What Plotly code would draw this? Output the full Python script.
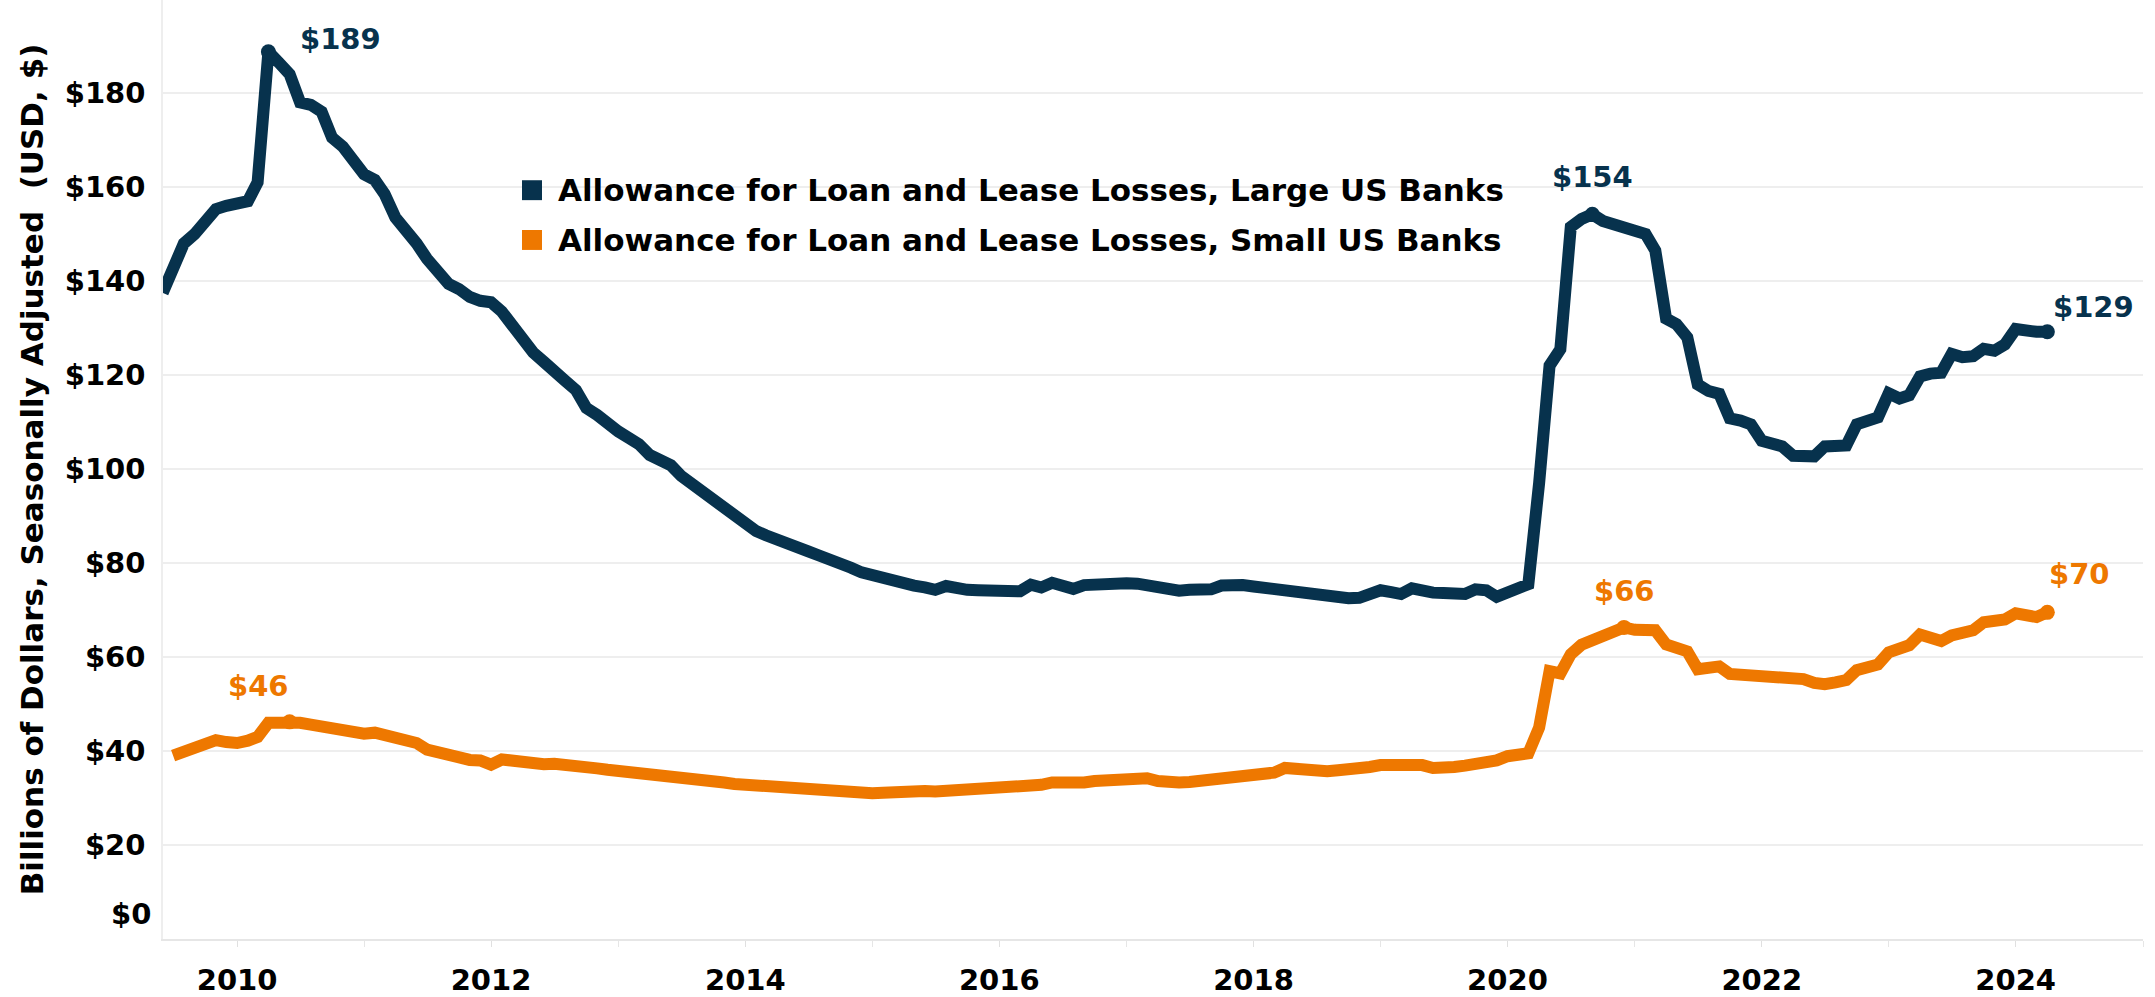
import pandas as pd
import plotly.graph_objects as go

# ---------------- data (monthly, billions USD) ----------------
large_start = "2009-06-01"
large_values = [
    137.5, 143.5, 148.0, 150.0, 152.5, 155.3, 156.0,                                  # 2009 Jun-Dec
    156.8, 157.0, 161.0, 188.8, 186.5, 184.0, 178.0, 177.5, 176.0, 170.5, 168.6, 165.5,  # 2010
    162.7, 161.5, 158.5, 153.5, 151.2, 148.0, 144.7, 142.3, 139.4, 138.3, 136.6, 135.8,  # 2011
    135.5, 133.5, 130.5, 127.5, 124.8, 122.8, 120.5, 118.8, 116.8, 113.0, 111.5, 109.5,  # 2012
    108.0, 106.6, 105.3, 103.0, 101.8, 100.8, 98.5, 96.8, 94.5, 92.8, 91.5, 89.8,        # 2013
    87.9, 86.8, 85.9, 85.2, 84.3, 83.5, 82.5, 81.6, 80.5, 79.8, 79.0, 78.0,              # 2014
    77.3, 76.8, 76.3, 75.6, 75.2, 74.8, 74.3, 75.1, 74.5, 74.3, 74.2, 74.2,              # 2015
    74.1, 73.8, 74.0, 75.4, 74.8, 75.8, 75.2, 74.5, 75.3, 75.5, 75.6, 75.8,              # 2016
    75.7, 75.6, 75.2, 74.8, 74.3, 74.1, 74.3, 74.2, 74.4, 75.2, 75.4, 75.3,              # 2017
    75.0, 74.7, 74.4, 74.0, 73.8, 73.6, 73.1, 72.7, 72.6, 72.5, 72.6, 73.2,              # 2018
    74.2, 73.8, 73.4, 74.6, 74.0, 73.7, 73.6, 73.3, 73.4, 74.4, 74.2, 72.8,              # 2019
    73.8, 74.5, 75.5, 97.0, 122.0, 125.5, 151.5, 153.2, 154.2, 152.8, 152.0, 151.2,      # 2020
    150.8, 150.0, 146.5, 132.0, 130.8, 128.0, 118.0, 116.6, 116.0, 110.8, 110.3, 109.5,  # 2021
    106.0, 105.5, 104.8, 102.8, 102.5, 102.7, 104.8, 104.6, 105.0, 109.5, 110.0, 111.0,  # 2022
    116.1, 115.0, 115.7, 119.7, 120.3, 120.5, 124.5, 123.8, 124.0, 125.6, 125.2, 126.5,  # 2023
    129.8, 129.3, 129.2, 129.2,                                                          # 2024 Jan-Apr
]

small_start = "2009-07-01"
small_values = [
    39.0, 39.8, 40.3, 41.2, 42.3, 41.9,                                      # 2009 Jul-Dec
    41.7, 42.2, 43.0, 46.0, 46.1, 46.2, 46.0, 45.6, 45.2, 45.0, 44.9, 44.3,  # 2010
    43.7, 43.9, 43.3, 42.5, 42.1, 41.7, 40.3, 39.6, 39.3, 38.5, 38.1, 38.0,  # 2011
    37.1, 38.2, 37.9, 37.6, 37.4, 37.2, 37.3, 36.9, 36.8, 36.6, 36.3, 36.0,  # 2012
    35.8, 35.6, 35.5, 35.2, 34.9, 34.7, 34.5, 34.3, 34.0, 33.6, 33.3, 33.0,  # 2013
    32.8, 32.7, 32.5, 32.3, 32.2, 32.0, 31.8, 31.6, 31.5, 31.3, 31.2, 31.1,  # 2014
    31.0, 31.1, 31.3, 31.4, 31.5, 31.5, 31.4, 31.5, 31.5, 31.6, 31.7, 31.8,  # 2015
    31.9, 32.1, 32.3, 32.7, 32.8, 33.3, 33.2, 33.0, 33.3, 33.6, 33.8, 34.0,  # 2016
    34.1, 34.1, 34.2, 33.6, 33.3, 33.3, 33.4, 33.6, 33.8, 34.2, 34.4, 34.7,  # 2017
    34.9, 35.2, 35.4, 36.4, 36.2, 35.8, 35.6, 35.7, 35.9, 36.0, 36.2, 36.6,  # 2018
    37.0, 37.1, 37.2, 37.3, 37.0, 36.4, 36.2, 36.6, 36.9, 37.1, 37.4, 38.0,  # 2019
    38.9, 39.1, 39.5, 45.0, 57.0, 56.5, 60.6, 62.6, 63.5, 64.6, 65.3, 66.3,  # 2020
    65.8, 65.7, 65.7, 62.7, 62.0, 61.2, 57.4, 57.6, 58.0, 56.4, 56.3, 56.4,  # 2021
    55.8, 55.7, 55.8, 55.6, 55.3, 54.5, 54.2, 54.6, 55.1, 57.2, 57.8, 58.4,  # 2022
    61.0, 61.8, 62.5, 64.8, 64.2, 63.4, 64.6, 65.2, 65.7, 67.4, 67.7, 68.0,  # 2023
    69.3, 69.0, 68.5, 69.5,                                                  # 2024 Jan-Apr
]

series_names = [
    "Allowance for Loan and Lease Losses, Large US Banks",
    "Allowance for Loan and Lease Losses, Small US Banks",
]
y_tick_values = [20, 40, 60, 80, 100, 120, 140, 160, 180]
y_tick_labels = ["$20", "$40", "$60", "$80", "$100", "$120", "$140", "$160", "$180"]
x_tick_values = ["2010-01-01", "2012-01-01", "2014-01-01", "2016-01-01",
                 "2018-01-01", "2020-01-01", "2022-01-01", "2024-01-01"]
x_tick_labels = ["2010", "2012", "2014", "2016", "2018", "2020", "2022", "2024"]
y_axis_title = "Billions of Dollars, Seasonally Adjusted  (USD, $)"

# ---------------- styling ----------------
NAVY = "#07324d"
ORANGE = "#ee7800"
FONT = "DejaVu Sans"
LINE_W = 12

large_dates = pd.date_range(large_start, periods=len(large_values), freq="MS")
small_dates = pd.date_range(small_start, periods=len(small_values), freq="MS")

fig = go.Figure()

fig.add_trace(go.Scatter(x=large_dates, y=large_values, mode="lines",
                         line=dict(color=NAVY, width=LINE_W), showlegend=False,
                         hoverinfo="skip"))
fig.add_trace(go.Scatter(x=small_dates, y=small_values, mode="lines",
                         line=dict(color=ORANGE, width=LINE_W), showlegend=False,
                         hoverinfo="skip"))

# highlighted points: early peak, 2020 peak and last value
def idx_max(vals, lo, hi):
    seg = vals[lo:hi]
    return lo + seg.index(max(seg))

n_l = len(large_values)
n_s = len(small_values)
large_pts = [idx_max(large_values, 0, 60), idx_max(large_values, 120, 150), n_l - 1]
small_pts = [idx_max(small_values, 0, 60), idx_max(small_values, 120, 150), n_s - 1]

fig.add_trace(go.Scatter(x=[large_dates[i] for i in large_pts],
                         y=[large_values[i] for i in large_pts], mode="markers",
                         marker=dict(color=NAVY, size=15), showlegend=False,
                         hoverinfo="skip"))
fig.add_trace(go.Scatter(x=[small_dates[i] for i in small_pts],
                         y=[small_values[i] for i in small_pts], mode="markers",
                         marker=dict(color=ORANGE, size=15), showlegend=False,
                         hoverinfo="skip"))

# value labels
label_shifts_large = [(72, 13), (0, 37), (46, 25)]
label_shifts_small = [(-31, 36), (0, 36), (32, 38)]
for i, (dx, dy) in zip(large_pts, label_shifts_large):
    fig.add_annotation(x=large_dates[i], y=large_values[i],
                       text=f"${round(large_values[i]):d}", showarrow=False,
                       xshift=dx, yshift=dy,
                       font=dict(family=FONT, size=29, color=NAVY, weight="bold"))
for i, (dx, dy) in zip(small_pts, label_shifts_small):
    fig.add_annotation(x=small_dates[i], y=small_values[i],
                       text=f"${round(small_values[i]):d}", showarrow=False,
                       xshift=dx, yshift=dy,
                       font=dict(family=FONT, size=29, color=ORANGE, weight="bold"))

# "$0" tick label (drawn slightly above the axis line as in the source)
fig.add_annotation(x=0, xref="paper", y=0, yref="y", text="$0",
                   showarrow=False, xanchor="right", xshift=-10, yshift=25,
                   font=dict(family=FONT, size=29, color="#000000", weight="bold"))

# legend drawn with square swatches + text (positions in pixels of the plot area)
PLOT_L, PLOT_R, PLOT_T, PLOT_B = 163, 2143, 0, 943
def px_to_paper_x(px):
    return (px - PLOT_L) / (PLOT_R - PLOT_L)
def px_to_paper_y(py):
    return (PLOT_B - py) / (PLOT_B - PLOT_T)

legend_rows = [(series_names[0], NAVY, 191), (series_names[1], ORANGE, 241)]
for name, col, yc in legend_rows:
    fig.add_shape(type="rect", xref="paper", yref="paper",
                  x0=px_to_paper_x(522), x1=px_to_paper_x(542),
                  y0=px_to_paper_y(yc + 10), y1=px_to_paper_y(yc - 10),
                  fillcolor=col, line=dict(width=0))
    fig.add_annotation(x=px_to_paper_x(556), y=px_to_paper_y(yc), xref="paper", yref="paper",
                       text=name, showarrow=False, xanchor="left", yanchor="middle",
                       font=dict(family=FONT, size=31, color="#000000", weight="bold"))

fig.update_layout(
    width=2155, height=997,
    margin=dict(l=163, r=12, t=0, b=54),
    paper_bgcolor="white", plot_bgcolor="white",
    font=dict(family=FONT, color="#000000"),
    showlegend=False,
)

fig.update_xaxes(
    type="date",
    range=["2009-06-02", "2025-01-01"],
    tickvals=x_tick_values, ticktext=x_tick_labels,
    tickfont=dict(family=FONT, size=29, color="#000000", weight="bold"),
    showgrid=False, zeroline=False,
    showline=True, linecolor="#e6e6e6", linewidth=2,
    ticks="outside", ticklen=6, tickcolor="#e0e0e0", tickwidth=1,
    ticklabelstandoff=8,
    minor=dict(dtick="M12", ticks="outside", ticklen=6, tickcolor="#e6e6e6", showgrid=False),
)

fig.update_yaxes(
    range=[0, 199.8],
    tickvals=y_tick_values, ticktext=y_tick_labels,
    tickfont=dict(family=FONT, size=29, color="#000000", weight="bold"),
    showgrid=True, gridcolor="#eeeeee", gridwidth=1.5,
    zeroline=False, showline=True, linecolor="#eeeeee", linewidth=1.5,
    ticks="", ticklabelstandoff=10,
    title=dict(text=y_axis_title, standoff=12,
               font=dict(family=FONT, size=31, color="#000000", weight="bold")),
)

fig.write_html("out.html")
